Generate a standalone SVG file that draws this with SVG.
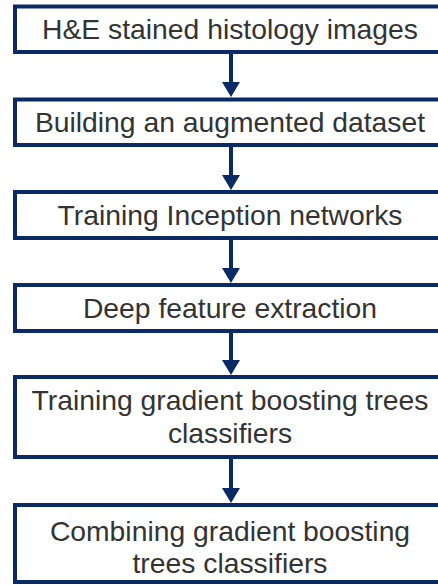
<svg xmlns="http://www.w3.org/2000/svg" width="438" height="585" viewBox="0 0 438 585">
  <defs>
    <marker id="head" markerUnits="userSpaceOnUse" markerWidth="15" markerHeight="18" viewBox="0 0 15 18" refX="0" refY="9" orient="auto">
      <path d="M0,0 L15,9 L0,18 Z" fill="#0a2a66"/>
    </marker>
    <style>
      .box rect { fill: #ffffff; stroke: #0a2a66; stroke-width: 4; }
      .box text { font-family: "Liberation Sans", Arial, sans-serif; font-size: 28.3px; fill: #333333; text-anchor: middle; }
      .links line { stroke: #0a2a66; stroke-width: 4; marker-end: url(#head); }
    </style>
  </defs>
  <rect width="438" height="585" fill="#ffffff"/>

  <!-- vertical connectors between consecutive steps -->
  <g class="links">
    <line x1="231" y1="54" x2="231" y2="82"/>
    <line x1="231" y1="147" x2="231" y2="175"/>
    <line x1="231" y1="240" x2="231" y2="268"/>
    <line x1="231" y1="333" x2="231" y2="360"/>
    <line x1="231" y1="459" x2="231" y2="488"/>
  </g>

  <g id="n1" class="box">
    <rect x="15" y="6.5" width="432" height="45.5"/>
    <text x="230" y="39">H&amp;E stained histology images</text>
  </g>
  <g id="n2" class="box">
    <rect x="15" y="99.5" width="432" height="45.5"/>
    <text x="230" y="132">Building an augmented dataset</text>
  </g>
  <g id="n3" class="box">
    <rect x="15" y="192" width="432" height="46"/>
    <text x="230" y="225">Training Inception networks</text>
  </g>
  <g id="n4" class="box">
    <rect x="15" y="285" width="432" height="46"/>
    <text x="230" y="317.5">Deep feature extraction</text>
  </g>
  <g id="n5" class="box">
    <rect x="15" y="377" width="432" height="80"/>
    <text x="230" y="410">Training gradient boosting trees</text>
    <text x="230" y="443">classifiers</text>
  </g>
  <g id="n6" class="box">
    <rect x="15" y="505" width="432" height="77"/>
    <text x="230" y="541">Combining gradient boosting</text>
    <text x="230" y="573">trees classifiers</text>
  </g>
</svg>
